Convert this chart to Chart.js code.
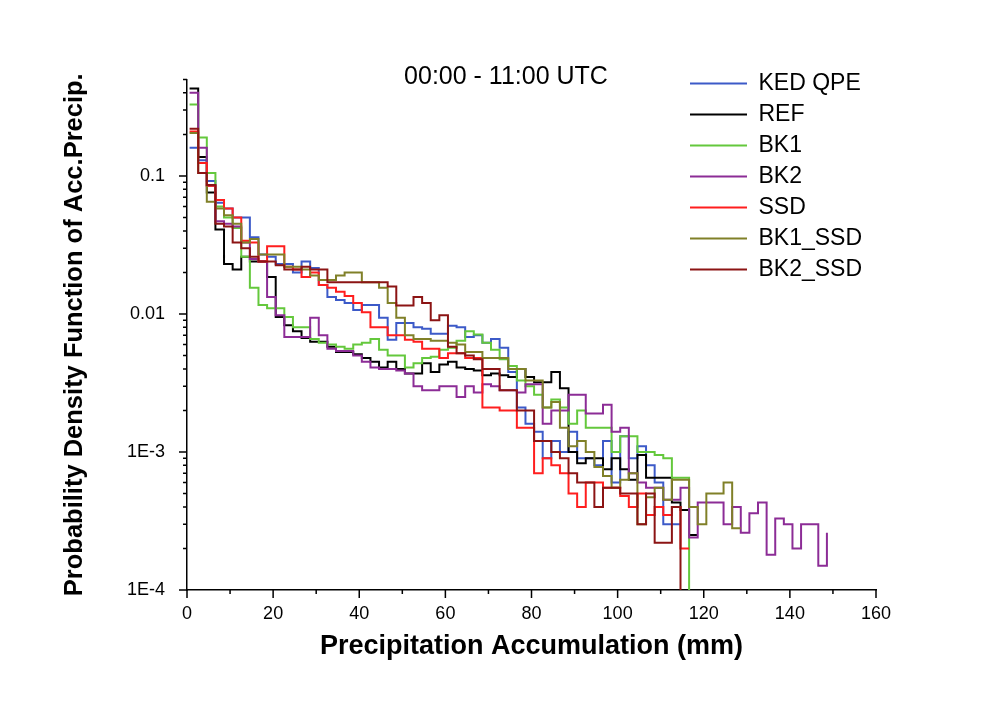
<!DOCTYPE html>
<html>
<head>
    <title>PDF of accumulated precipitation</title>
    <meta charset="UTF-8">
    <script src="https://cdn.jsdelivr.net/npm/chart.js@4.4.1/dist/chart.umd.min.js"></script>
    <style>
        html, body { margin: 0; padding: 0; background: #fff; }
        #myChart { display: block; }
    </style>
</head>
<body>
    <canvas id="myChart" width="1000" height="707"></canvas>

    <script>
        // histogram bins (mm): left edge of the first bin and bin width
        var binStart = 0.6;
        var binWidth = 2;

        var seriesNames = ['KED QPE', 'REF', 'BK1', 'BK2', 'SSD', 'BK1_SSD', 'BK2_SSD'];
        var seriesColors = ['#3c5ac8', '#000000', '#64c83c', '#8c2c96', '#ff1e1e', '#808028', '#8c1414'];

        // PDF value of each bin (last value closes the step)
        var kedQpe = [0.16, 0.13, 0.092, 0.064, 0.058, 0.05, 0.05, 0.036, 0.027, 0.026,
            0.023, 0.023, 0.02, 0.024, 0.0215, 0.0162, 0.0133, 0.0126, 0.012, 0.0107,
            0.0116, 0.0116, 0.0094, 0.0065, 0.0086, 0.0086, 0.008, 0.0078, 0.0072, 0.0072,
            0.0082, 0.008, 0.0068, 0.007, 0.0062, 0.0066, 0.0057, 0.0038, 0.0021, 0.0016,
            0.0014, 0.0009, 0.0012, 0.001, 0.0014, 0.0009, 0.0009, 0.0008, 0.0012, 0.0006,
            0.0013, 0.0009, 0.0011, 0.0008, 0.0006, 0.0003, 0.0003, 0.0003];
        var ref = [0.43, 0.137, 0.076, 0.041, 0.023, 0.021, 0.026, 0.024, 0.024, 0.0185,
            0.0095, 0.0083, 0.0075, 0.0067, 0.0063, 0.0063, 0.0058, 0.0053, 0.0053, 0.0051,
            0.0048, 0.0045, 0.0041, 0.0045, 0.004, 0.0037, 0.0037, 0.0044, 0.0038, 0.0043,
            0.0045, 0.0041, 0.004, 0.0039, 0.0036, 0.0037, 0.0036, 0.0035, 0.004, 0.0035,
            0.0032, 0.0032, 0.0038, 0.0029, 0.001, 0.00083, 0.0009, 0.0009, 0.00075, 0.0009,
            0.00075, 0.00063, 0.00095, 0.00065, 0.00065, 0.00065, 0.00043, 0.00038, 0.00025, 0.00025];
        var bk1 = [0.33, 0.19, 0.105, 0.06, 0.05, 0.042, 0.026, 0.0155, 0.0116, 0.011,
            0.011, 0.0095, 0.008, 0.008, 0.0066, 0.0062, 0.006, 0.0058, 0.0056, 0.006,
            0.0062, 0.0066, 0.0055, 0.005, 0.005, 0.0041, 0.0044, 0.0048, 0.0049, 0.0055,
            0.0057, 0.0064, 0.0075, 0.0071, 0.0062, 0.0055, 0.0047, 0.0042, 0.0033, 0.003,
            0.0026, 0.0021, 0.0024, 0.0021, 0.0016, 0.002, 0.0015, 0.0015, 0.0015, 0.001,
            0.0013, 0.0013, 0.001, 0.001, 0.00095, 0.0009, 0.00065, 0.00065, 1e-7];
        var bk2 = [0.40, 0.16, 0.085, 0.047, 0.045, 0.043, 0.033, 0.025, 0.024, 0.0133,
            0.0098, 0.0068, 0.0068, 0.0068, 0.0094, 0.007, 0.0056, 0.0054, 0.0054, 0.005,
            0.0045, 0.0041, 0.004, 0.004, 0.0039, 0.0037, 0.003, 0.0028, 0.0028, 0.003,
            0.003, 0.0025, 0.003, 0.0027, 0.0031, 0.003, 0.0028, 0.0028, 0.0027, 0.0031,
            0.0031, 0.0016, 0.002, 0.002, 0.0026, 0.0026, 0.0019, 0.0019, 0.0022, 0.0014,
            0.0015, 0.0007, 0.0006, 0.00055, 0.00055, 0.00045, 0.00045, 0.00055, 0.00024, 0.00043,
            0.00043, 0.00043, 0.0003, 0.0004, 0.00026, 0.00036, 0.00043, 0.00018, 0.00033, 0.0003,
            0.0002, 0.0003, 0.0003, 0.00015, 0.00026];
        var ssd = [0.21, 0.124, 0.085, 0.067, 0.058, 0.05, 0.034, 0.033, 0.024, 0.031,
            0.031, 0.022, 0.021, 0.0185, 0.02, 0.0162, 0.0155, 0.0145, 0.0135, 0.012,
            0.0103, 0.008, 0.008, 0.007, 0.007, 0.0065, 0.0063, 0.0056, 0.0056, 0.0048,
            0.0052, 0.0052, 0.0048, 0.0048, 0.0021, 0.0021, 0.002, 0.002, 0.0015, 0.0015,
            0.0007, 0.0009, 0.0008, 0.0007, 0.0005, 0.0004, 0.0006, 0.0006, 0.00055, 0.00055,
            0.00048, 0.0004, 0.0005, 0.00035, 0.0004, 0.00035, 0.0004, 0.0002, 0.0002];
        var bk1Ssd = [0.205, 0.105, 0.065, 0.058, 0.052, 0.045, 0.033, 0.035, 0.027, 0.027,
            0.027, 0.022, 0.022, 0.021, 0.019, 0.0176, 0.0176, 0.019, 0.02, 0.02,
            0.017, 0.017, 0.0155, 0.012, 0.0094, 0.007, 0.0066, 0.0066, 0.0064, 0.0064,
            0.0062, 0.006, 0.0053, 0.0053, 0.0048, 0.0048, 0.0048, 0.004, 0.004, 0.0033,
            0.0033, 0.0021, 0.0023, 0.0015, 0.0011, 0.0012, 0.001, 0.00078, 0.00067, 0.00055,
            0.00063, 0.0007, 0.0003, 0.00047, 0.00055, 0.00045, 0.00063, 0.00063, 0.0004, 0.0003,
            0.0005, 0.0005, 0.0006, 0.00028, 0.00028];
        var bk2Ssd = [0.22, 0.105, 0.086, 0.045, 0.043, 0.033, 0.03, 0.026, 0.024, 0.024,
            0.0225, 0.021, 0.021, 0.022, 0.021, 0.021, 0.017, 0.017, 0.017, 0.017,
            0.017, 0.017, 0.017, 0.0158, 0.0115, 0.0115, 0.0133, 0.012, 0.009, 0.0098,
            0.0058, 0.0052, 0.005, 0.0047, 0.004, 0.004, 0.0028, 0.0028, 0.002, 0.002,
            0.0012, 0.0012, 0.001, 0.0009, 0.0007, 0.0006, 0.0006, 0.0004, 0.00055, 0.00055,
            0.0005, 0.0005, 0.0003, 0.0005, 0.00022, 0.00022, 0.0004, 1e-7];

        var seriesValues = [kedQpe, ref, bk1, bk2, ssd, bk1Ssd, bk2Ssd];

        // axis ticks
        var xTickLabels = [0, 20, 40, 60, 80, 100, 120, 140, 160];
        var yMajorTicks = [1e-4, 1e-3, 0.01, 0.1];
        var yMajorLabels = ['1E-4', '1E-3', '0.01', '0.1'];
        var yMantissas = [1, 2, 3, 4, 5, 6, 7, 8, 9];

        var titleText = '00:00 - 11:00 UTC';
        var xTitle = 'Precipitation Accumulation (mm)';
        var yTitle = 'Probability Density Function of Acc.Precip.';
        var fontFamily = '"Liberation Sans", Arial, Helvetica, sans-serif';

        var yTicks = [];
        yMajorTicks.forEach(function (d) {
            yMantissas.forEach(function (m) {
                var v = m * d;
                if (v <= 0.5 + 1e-12) yTicks.push(v);
            });
        });

        function majorLabel(v) {
            for (var i = 0; i < yMajorTicks.length; i++) {
                if (Math.abs(v - yMajorTicks[i]) < yMajorTicks[i] * 1e-6) return yMajorLabels[i];
            }
            return '';
        }

        var datasets = seriesNames.map(function (name, i) {
            return {
                label: name,
                data: seriesValues[i].map(function (v, k) {
                    return { x: binStart + k * binWidth, y: v };
                }),
                borderColor: seriesColors[i],
                backgroundColor: seriesColors[i],
                borderWidth: 2,
                stepped: 'before',
                pointRadius: 0,
                fill: false,
                order: seriesNames.length - i
            };
        });

        // short minor ticks, long major ticks, pointing out of the plot
        var tickMarks = {
            id: 'tickMarks',
            afterDraw: function (chart) {
                var ctx = chart.ctx, area = chart.chartArea;
                var xs = chart.scales.x, ys = chart.scales.y;
                ctx.save();
                ctx.strokeStyle = '#000';
                ctx.lineWidth = 1.5;
                ctx.beginPath();
                ys.ticks.forEach(function (t) {
                    var py = ys.getPixelForValue(t.value);
                    var len = majorLabel(t.value) ? 8 : 4;
                    ctx.moveTo(area.left, py);
                    ctx.lineTo(area.left - len, py);
                });
                xs.ticks.forEach(function (t) {
                    var px = xs.getPixelForValue(t.value);
                    var len = xTickLabels.indexOf(t.value) >= 0 ? 8 : 4;
                    ctx.moveTo(px, area.bottom);
                    ctx.lineTo(px, area.bottom + len);
                });
                ctx.stroke();
                ctx.restore();
            }
        };

        var plotTitle = {
            id: 'plotTitle',
            afterDraw: function (chart) {
                var ctx = chart.ctx;
                ctx.save();
                ctx.font = '25px ' + fontFamily;
                ctx.fillStyle = '#000';
                ctx.textAlign = 'center';
                ctx.textBaseline = 'middle';
                ctx.fillText(titleText, 506, 77);
                ctx.restore();
            }
        };

        // put the legend in the upper right corner of the plot
        var legendPlacer = {
            id: 'legendPlacer',
            afterLayout: function (chart) {
                var lg = chart.legend;
                if (!lg) return;
                var w = lg.width, h = lg.height;
                lg.left = 682;
                lg.top = 64;
                lg.right = 682 + w;
                lg.bottom = 64 + h;
            }
        };

        var ctx = document.getElementById('myChart');
        var myChart = new Chart(ctx, {
            type: 'line',
            data: { datasets: datasets },
            plugins: [tickMarks, plotTitle, legendPlacer],
            options: {
                responsive: false,
                animation: false,
                devicePixelRatio: 1,
                layout: { padding: { top: 79.5, right: 124, bottom: 0, left: 0 } },
                plugins: {
                    tooltip: { enabled: false },
                    legend: {
                        position: 'chartArea',
                        align: 'start',
                        labels: {
                            usePointStyle: true,
                            pointStyle: 'line',
                            pointStyleWidth: 57,
                            padding: 8,
                            color: '#000',
                            font: { family: fontFamily, size: 23 },
                            sort: function (a, b) { return a.datasetIndex - b.datasetIndex; }
                        }
                    }
                },
                scales: {
                    x: {
                        type: 'linear',
                        position: 'bottom',
                        min: 0,
                        max: 160,
                        afterFit: function (s) { s.height = 117; },
                        ticks: {
                            stepSize: 10,
                            autoSkip: false,
                            maxRotation: 0,
                            padding: 5,
                            color: '#000',
                            font: { family: fontFamily, size: 18 },
                            callback: function (v) { return xTickLabels.indexOf(v) >= 0 ? String(v) : ''; }
                        },
                        grid: { drawOnChartArea: false, drawTicks: true, tickLength: 8, color: 'rgba(0,0,0,0)' },
                        border: { display: true, color: '#000', width: 1.5 },
                        title: {
                            display: true,
                            text: xTitle,
                            color: '#000',
                            font: { family: fontFamily, size: 27, weight: 'bold' },
                            padding: { top: 0, bottom: 44 }
                        }
                    },
                    y: {
                        type: 'logarithmic',
                        position: 'left',
                        min: 1e-4,
                        max: 0.5,
                        afterFit: function (s) { s.width = 187; },
                        afterBuildTicks: function (s) {
                            s.ticks = yTicks.map(function (v) { return { value: v }; });
                        },
                        ticks: {
                            autoSkip: false,
                            padding: 14,
                            color: '#000',
                            font: { family: fontFamily, size: 18 },
                            callback: function (v) { return majorLabel(v); }
                        },
                        grid: { drawOnChartArea: false, drawTicks: true, tickLength: 8, color: 'rgba(0,0,0,0)' },
                        border: { display: true, color: '#000', width: 1.5 },
                        title: {
                            display: true,
                            text: yTitle,
                            color: '#000',
                            font: { family: fontFamily, size: 25.5, weight: 'bold' },
                            padding: { top: 60, bottom: 0 }
                        }
                    }
                }
            }
        });
    </script>
</body>
</html>
